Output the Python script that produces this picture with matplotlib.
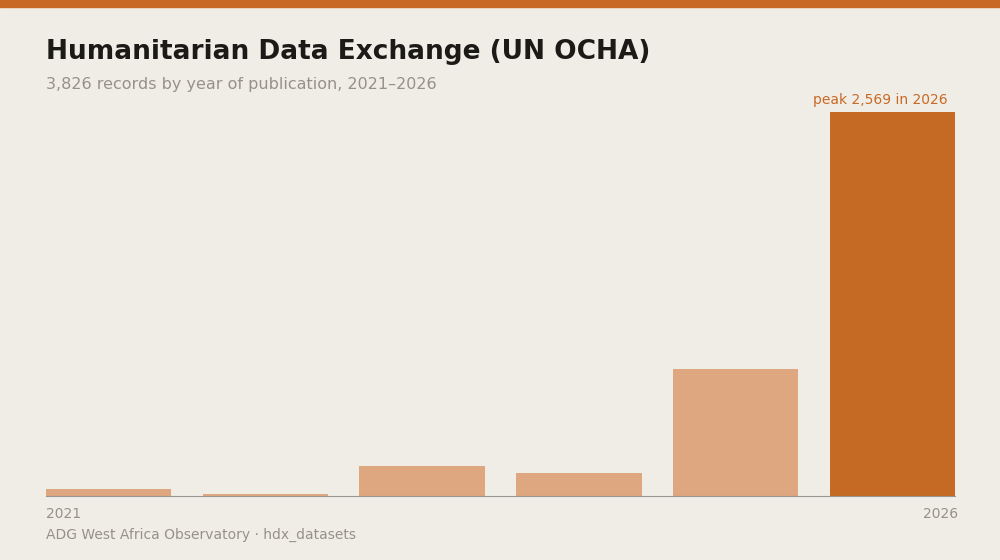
import matplotlib
matplotlib.use("Agg")
import matplotlib.pyplot as plt
from matplotlib.patches import Rectangle

years = ["2021", "2022", "2023", "2024", "2025", "2026"]
counts = [45, 12, 198, 152, 850, 2569]

bg = "#f0ede6"
fig = plt.figure(figsize=(10, 5.6), dpi=100, facecolor=bg)
fig.patches.append(Rectangle((0, 1 - 7/560), 1, 7/560, transform=fig.transFigure, color="#c86a26", zorder=5))
ax = fig.add_axes([0.046, (560-496)/560, 0.909, 384/560], facecolor=bg)
colors = ["#dea77f"] * 5 + ["#c46a24"]
ax.bar(range(len(years)), counts, width=0.8, color=colors)
ax.set_xlim(-0.4, 5.4)
ax.set_ylim(0, max(counts))
for s in ["top", "right", "left"]:
    ax.spines[s].set_visible(False)
ax.spines["bottom"].set_color("#999590")
ax.set_xticks([]); ax.set_yticks([])
ax.text(5.35, max(counts) * 1.012, f"peak {max(counts):,} in {years[-1]}", ha="right", va="bottom",
        color="#c86a26", fontsize=10)

fig.text(0.046, 0.907, "Humanitarian Data Exchange (UN OCHA)", fontsize=19, fontweight="bold", color="#1c1a17", va="center")
fig.text(0.046, 0.849, f"{sum(counts):,} records by year of publication, 2021–2026", fontsize=11.5, color="#96928b", va="center")
fig.text(0.046, 0.083, years[0], fontsize=10, color="#96928b", va="center")
fig.text(0.958, 0.083, years[-1], fontsize=10, color="#96928b", va="center", ha="right")
fig.text(0.046, 0.045, "ADG West Africa Observatory · hdx_datasets", fontsize=10, color="#96928b", va="center")
fig.savefig("out.png", dpi=100, facecolor=bg)
